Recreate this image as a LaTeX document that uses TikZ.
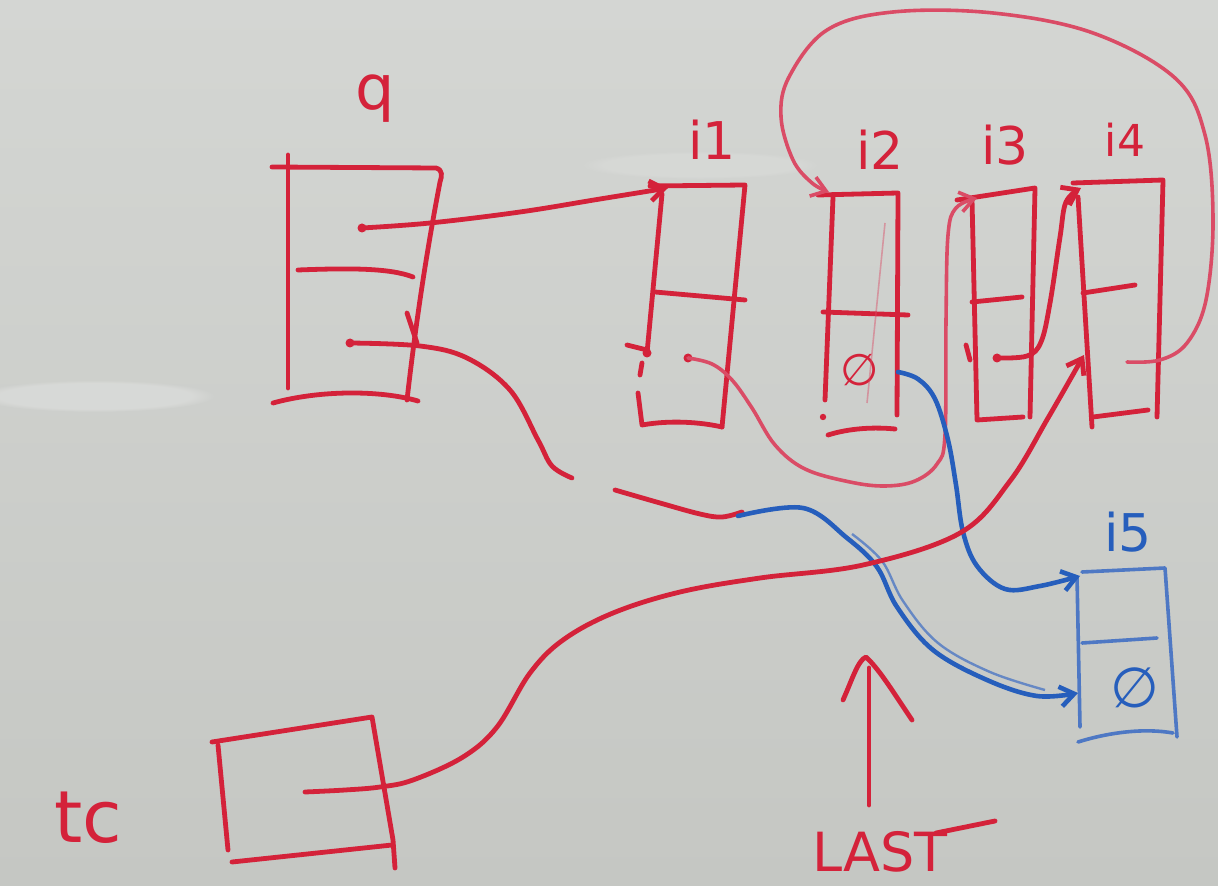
\documentclass[tikz,border=0pt]{standalone}
\usepackage{fontspec}
\setmainfont{DejaVu Sans}
\usetikzlibrary{arrows.meta,fadings}
\definecolor{boardtop}{RGB}{212,214,211}
\definecolor{boardbot}{RGB}{197,199,195}
\definecolor{mred}{RGB}{212,34,58}
\definecolor{mpink}{RGB}{218,76,102}
\definecolor{mblue}{RGB}{38,94,188}
\definecolor{mbluel}{RGB}{78,120,196}
\begin{document}
\begin{tikzpicture}[x=0.5pt,y=-0.5pt,
  >={Straight Barb[length=7pt,width=10pt]},
  mk/.style={draw=mred,line width=2.4pt,line cap=round,line join=round},
  fad/.style={draw=mpink,line width=1.8pt,line cap=round,line join=round},
  bl/.style={draw=mblue,line width=2.3pt,line cap=round,line join=round},
  bll/.style={draw=mbluel,line width=1.8pt,line cap=round,line join=round},
  dot/.style={circle,fill=mred,inner sep=0pt,minimum size=4.5pt},
  lbl/.style={text=mred,inner sep=0pt,font=\fontsize{26}{30}\selectfont},
  blbl/.style={text=mblue,inner sep=0pt,font=\fontsize{26}{30}\selectfont},
  sm/.style={smooth,tension=0.6}]
% board
\useasboundingbox (0,0) rectangle (1218,886);
\shade[top color=boardtop,bottom color=boardbot] (0,0) rectangle (1218,886);
\fill[white,opacity=0.22,path fading=circle with fuzzy edge 20 percent] (95,396) ellipse [x radius=120,y radius=16];
\fill[white,opacity=0.12,path fading=circle with fuzzy edge 20 percent] (700,165) ellipse [x radius=120,y radius=14];

% ---------- labels ----------
\node[lbl,font=\fontsize{31}{35}\selectfont,anchor=base] (ql) at (375,110) {q};
\node[lbl] (l1) at (712,140) {i1};
\node[lbl] (l2) at (880,150) {i2};
\node[lbl] (l3) at (1005,145) {i3};
\node[lbl,font=\fontsize{22}{26}\selectfont] (l4) at (1125,140) {i4};
\node[blbl] (l5) at (1128,532) {i5};
\node[lbl,font=\fontsize{36}{40}\selectfont] (tcl) at (88,818) {tc};
\node[lbl,font=\fontsize{27}{31}\selectfont] (last) at (880,852) {LAST};
\node[lbl,font=\fontsize{22}{26}\selectfont] (nil2) at (860,370) {∅};
\node[blbl,font=\fontsize{28}{32}\selectfont] (nil5) at (1135,688) {∅};

% ---------- q ----------
\draw[mk] (288,155) -- (288,388);
\draw[mk] (272,167) -- (436,168) .. controls (443,170) and (442,176) .. (440,182)
          .. controls (425,260) and (415,330) .. (407,400);
\draw[mk] (273,403) .. controls (320,390) and (380,390) .. (418,401);
\draw[mk] (298,270) .. controls (350,268) and (390,268) .. (413,277);
\draw[mk] (407,313) -- (417,343);
\node[dot] (q1) at (362,228) {};
\node[dot] (q2) at (350,343) {};

% ---------- i1 ----------
\draw[mk] (650,186) -- (745,185) -- (722,427);
\draw[mk] (662,194) -- (647,353);
\draw[mk] (642,363) -- (640,375);
\draw[mk] (638,393) -- (642,425) .. controls (670,420) and (700,422) .. (722,427);
\draw[mk] (655,292) -- (745,300);
\draw[mk] (627,345) -- (647,350);
\node[dot] (a1) at (647,353) {};
\node[dot] (a2) at (688,358) {};
\coordinate (i1in) at (668,188);

% ---------- i2 ----------
\draw[mk] (818,195) -- (898,193) -- (897,415);
\draw[mk] (833,197) -- (825,400);
\draw[mk] (823,312) -- (908,315);
\draw[mk] (828,435) .. controls (850,428) and (875,427) .. (895,429);
\fill[mred] (823,417) circle (1.6pt);
\draw[mpink,line width=0.8pt,opacity=0.45] (885,223) -- (867,403);
\coordinate (i2in) at (829,192);

% ---------- i3 ----------
\draw[mk] (957,200) -- (1035,188) -- (1030,417);
\draw[mk] (972,200) -- (977,420) -- (1023,417);
\draw[mk] (972,302) -- (1022,297);
\draw[mk] (966,345) -- (970,360);
\node[dot] (c1) at (997,358) {};
\coordinate (i3in) at (977,198);

% ---------- i4 ----------
\draw[mk] (1073,183) -- (1163,180) -- (1157,417);
\draw[mk] (1078,197) -- (1092,427);
\draw[mk] (1093,417) -- (1148,410);
\draw[mk] (1083,293) -- (1135,285);
\coordinate (i4in) at (1081,188);
\coordinate (i4in2) at (1084,355);
\coordinate (d1) at (1127,362);

% ---------- i5 ----------
\draw[bll] (1082,572) -- (1165,568) -- (1177,737);
\draw[bll] (1077,577) -- (1080,727);
\draw[bll] (1082,643) -- (1157,638);
\draw[bll] (1078,742) .. controls (1110,732) and (1145,728) .. (1173,733);
\coordinate (i5in1) at (1080,576);
\coordinate (i5in2) at (1078,693);

% ---------- tc ----------
\draw[mk] (212,742) -- (372,717) -- (393,840) -- (395,868);
\draw[mk] (218,745) -- (228,850);
\draw[mk] (232,862) -- (392,845);
\coordinate (t1) at (305,792);

% ---------- LAST arrow ----------
\coordinate (lastfoot) at (869,805);
\coordinate (lasthead) at (866,657);
\draw[mk] (lastfoot) -- (869,668);
\draw[mk] (843,700) .. controls (852,680) and (858,660) .. (lasthead) .. controls (880,670) and (895,695) .. (912,720);
\draw[mk] (936,833) -- (995,821);

% ---------- pointers ----------
% q.first -> i1
\draw[mk,->] plot[sm] coordinates {(q1) (430,223) (520,212) (600,199) (i1in)};
% q.last (broken stroke, then blue to i5)
\draw[mk] plot[sm] coordinates {(q2) (420,346) (467,358) (510,390) (538,440) (552,466) (572,478)};
\draw[mk] plot[sm] coordinates {(615,490) (660,503) (700,514) (722,517) (742,512)};
\draw[bl,->] plot[sm] coordinates {(738,516) (803,508) (847,538) (877,567) (897,607) (933,650) (987,680) (1037,696) (i5in2)};
\draw[mbluel,line width=1.2pt,opacity=0.8] plot[sm] coordinates {(852,534) (882,561) (903,601) (938,643) (990,672) (1045,690)};
% i1.next -> i3 (around under i2)
\draw[fad,->] plot[sm] coordinates {(a2) (712,364) (732,380) (752,408) (775,445) (805,469) (850,482) (885,486) (915,481) (937,464) (945,435) (946,320) (948,235) (956,208) (i3in)};
% i3.next -> i4
\draw[mk,->] plot[sm] coordinates {(c1) (1027,356) (1041,342) (1050,303) (1060,237) (1066,202) (i4in)};
% i4.next loops back to i2
\draw[fad,->] plot[sm] coordinates {(d1) (1160,360) (1187,343) (1206,300) (1213,220) (1205,135) (1175,78) (1093,33) (993,13) (893,12) (827,30) (789,77) (781,117) (793,160) (812,183) (i2in)};
% i2.nil -> i5 (blue)
\draw[bl,->] plot[sm] coordinates {(898,372) (918,379) (935,399) (948,440) (956,485) (963,532) (977,566) (1005,589) (1040,586) (i5in1)};
% tc -> i4
\draw[mk,->] plot[sm] coordinates {(t1) (345,790) (380,787) (413,780) (463,757) (497,727) (530,673) (563,640) (613,613) (680,592) (760,578) (863,565) (960,533) (1010,481) (1048,418) (i4in2)};
\end{tikzpicture}
\end{document}
